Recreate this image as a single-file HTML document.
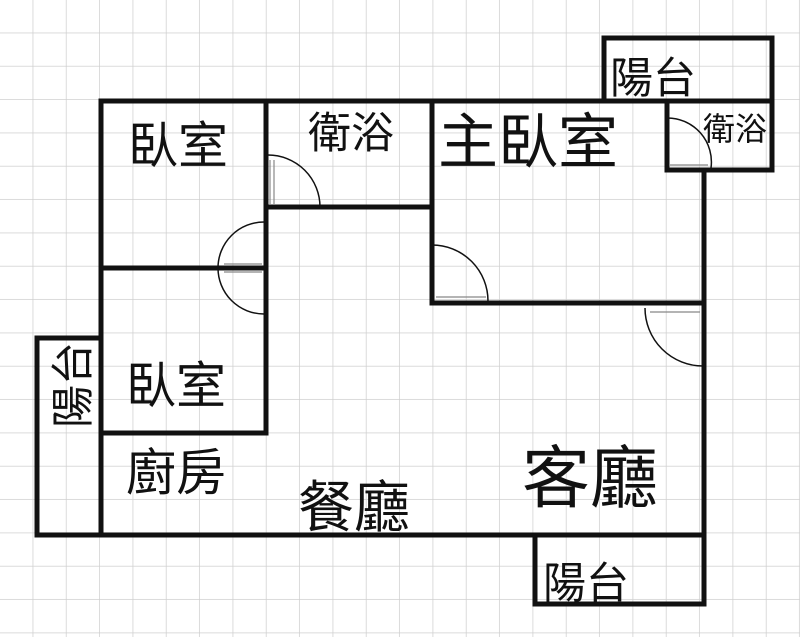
<!DOCTYPE html>
<html><head><meta charset="utf-8"><style>
html,body{margin:0;padding:0;background:#fff;}
svg{display:block;}
text{font-family:"Liberation Sans","Noto Sans CJK TC",sans-serif;fill:#111;}
</style></head><body>
<svg width="800" height="637" viewBox="0 0 800 637" xmlns="http://www.w3.org/2000/svg">
<defs>
<pattern id="g" width="33.33" height="33.33" patternUnits="userSpaceOnUse">
<path d="M33.33 0V33.33M0 33.33H33.33" stroke="#cfcfcf" stroke-width="1.5" fill="none"/>
</pattern>
</defs>
<rect width="800" height="637" fill="#fff"/>
<rect width="800" height="637" fill="url(#g)"/>
<g fill="none" stroke="#111" stroke-width="1.5">
<path d="M268 155 A52 52 0 0 1 320 207"/>
<path d="M264 222 A46 46 0 0 0 264 314"/>
<path d="M432 245 A56 56 0 0 1 488 301"/>
<path d="M645 308 A58 58 0 0 0 703 366"/>
<path d="M667 118 A44 44 0 0 1 711 168"/>
</g>
<g fill="none" stroke="#111" stroke-width="5" stroke-linecap="square">
<rect x="101" y="101" width="165" height="167"/>
<path d="M101 101H667"/>
<rect x="604" y="38" width="168" height="63"/>
<path d="M667 101V170H772V101"/>
<path d="M432 101V303H704V170"/>
<path d="M266 207H432"/>
<path d="M266 268V433H101"/>
<path d="M101 101V535"/>
<path d="M37 338H101M37 338V535H704V303"/>
<path d="M535 535V604H704V535"/>
</g>
<g stroke="#888" stroke-width="1.2">
<path d="M270 160V205M274 160V205"/>
<path d="M224 264H262M224 272H262"/>
<path d="M436 297H486"/>
<path d="M650 312H700"/>
<path d="M670 165H708"/>
</g>
<text x="128" y="163" font-size="50">臥室</text>
<text x="308" y="148" font-size="43">衛浴</text>
<text x="438" y="163" font-size="60">主臥室</text>
<text x="610" y="93" font-size="43">陽台</text>
<text x="703" y="140" font-size="32">衛浴</text>
<text x="126" y="403" font-size="50">臥室</text>
<text x="126" y="490" font-size="50">廚房</text>
<text x="298" y="527" font-size="56">餐廳</text>
<text x="522" y="502" font-size="68">客廳</text>
<text x="543" y="598" font-size="43">陽台</text>
<text transform="translate(88,428) rotate(-90)" font-size="43">陽台</text>
</svg>
</body></html>
